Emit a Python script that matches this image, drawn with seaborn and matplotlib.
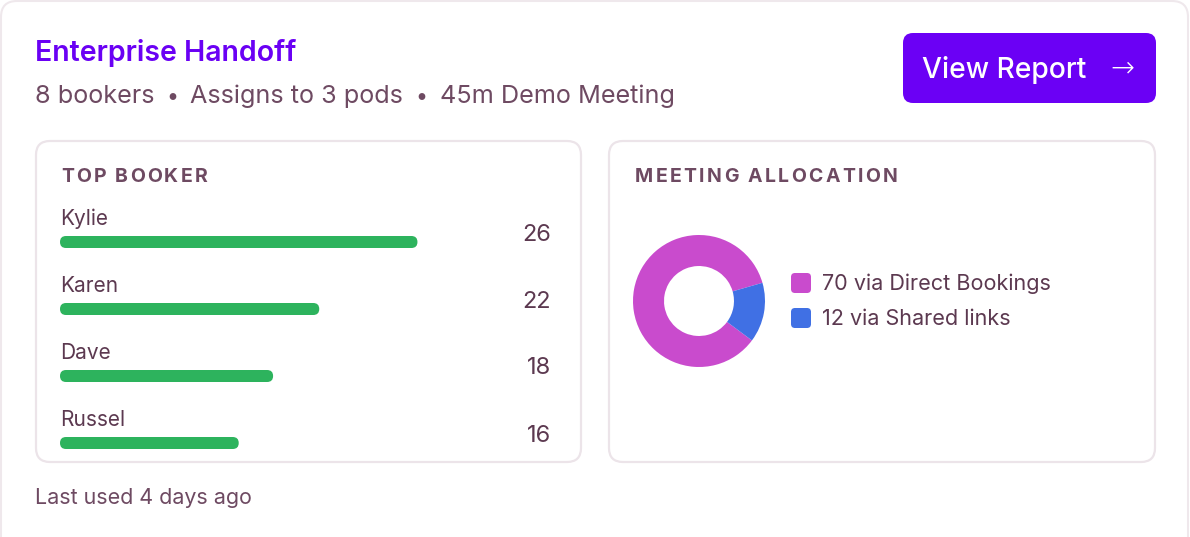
import matplotlib
matplotlib.use("Agg")
import matplotlib.pyplot as plt
import seaborn as sns
import pandas as pd
from matplotlib.patches import FancyBboxPatch

# ---------------- data ----------------
title = "Enterprise Handoff"
subtitle_parts = ["8 bookers", "Assigns to 3 pods", "45m Demo Meeting"]
button_label = "View Report"
bookers = ["Kylie", "Karen", "Dave", "Russel"]
booker_counts = [26, 22, 18, 16]
bar_fill_pct = [72.8, 52.8, 43.4, 36.4]   # bar length as % of the track
alloc_labels = ["Direct Bookings", "Shared links"]
alloc_values = [70, 12]
footer = "Last used 4 days ago"

# ---------------- style ----------------
PURPLE = "#6a00f4"
MUTED = "#6e4a62"
DARK = "#5c3950"
GREEN = "#2db35d"
MAGENTA = "#c94bcd"
BLUE = "#4070e4"
BORDER = "#ece4e9"

sns.set_theme(style="white")
plt.rcParams["font.family"] = ["Inter", "DejaVu Sans"]

W, H = 1190, 537
fig = plt.figure(figsize=(W / 100, H / 100), dpi=100, facecolor="white")
bg = fig.add_axes([0, 0, 1, 1])
bg.set_xlim(0, W)
bg.set_ylim(H, 0)
bg.axis("off")
R = fig.canvas.get_renderer()


def px_axes(x0, y0, x1, y1):
    return fig.add_axes([x0 / W, 1 - y1 / H, (x1 - x0) / W, (y1 - y0) / H])


def text_w(s, size, **kw):
    t = bg.text(0, 0, s, fontsize=size, **kw)
    w = t.get_window_extent(R).width
    t.remove()
    return w


def fit(s, target, **kw):
    return 20 * target / text_w(s, 20, **kw)


def rbox(x, y, w, h, r, **kw):
    bg.add_patch(FancyBboxPatch((x, y), w, h, boxstyle=f"round,pad=0,rounding_size={r}", **kw))


def spaced(x, y, s, target, size, **kw):
    natural = text_w(s, size, **kw)
    sp = (target - natural) / (len(s) - 1)
    for i, c in enumerate(s):
        if c == " ":
            continue
        left = text_w(s[: i + 1], size, **kw) - text_w(c, size, **kw)
        bg.text(x + left + i * sp, y, c, fontsize=size, ha="left", va="baseline", **kw)


# card + panels
rbox(1, 1, 1187, 600, 16, fc="white", ec="#efe8ec", lw=1.5)
rbox(36, 141, 545, 321, 14, fc="white", ec=BORDER, lw=1.6)
rbox(609, 141, 546, 321, 14, fc="white", ec=BORDER, lw=1.6)

# header
bg.text(35, 61, title, fontsize=fit(title, 262, fontweight="semibold"),
        fontweight="semibold", color=PURPLE, va="baseline")
sub_size = fit(subtitle_parts[1], 213)
for xs, part in zip([35, 190, 440], subtitle_parts):
    bg.text(xs, 103, part, fontsize=sub_size, color=MUTED, va="baseline")
for xb in [172, 421]:
    bg.text(xb, 103, "\u2022", fontsize=sub_size * 0.85, color=MUTED, va="baseline", ha="center")

# button
rbox(903, 33, 253, 70, 10, fc="#6b00f5", ec="none")
bg.text(922, 78, button_label, fontsize=fit(button_label, 164, fontweight="medium"),
        fontweight="medium", color="white", va="baseline")
bg.text(1122, 68, "\u2192", fontsize=fit("\u2192", 24, family=["DejaVu Sans"], fontweight="light"),
        fontweight="light", color="white", va="center", ha="center", family=["DejaVu Sans"])

# section headers
spaced(61, 182, "TOP BOOKER", 146, 14, fontweight="bold", color=MUTED)
spaced(635, 182, "MEETING ALLOCATION", 262, 14, fontweight="bold", color=MUTED)

# ---------------- bars ----------------
axb = px_axes(60, 208.5, 551, 476.5)
df = pd.DataFrame({"booker": bookers, "fill": bar_fill_pct})
sns.barplot(data=df, x="fill", y="booker", orient="h", color=GREEN, width=12 / 67,
            saturation=1, ax=axb)
axb.set_xlim(0, 100)
axb.set_ylim(3.5, -0.5)
axb.axis("off")
sx, sy = 491 / 100, 67.0
for p in list(axb.patches):
    x, y, w, h = p.get_x(), p.get_y(), p.get_width(), p.get_height()
    r = h / 2 * sy / sx
    fb = FancyBboxPatch((x, y), w, h, boxstyle=f"round,pad=0,rounding_size={r}",
                        mutation_aspect=sx / sy, fc=GREEN, ec="none")
    p.remove()
    axb.add_patch(fb)
name_size = fit("Russel", 65)
val_size = fit("26", 29)
for i, (nm, v) in enumerate(zip(bookers, booker_counts)):
    axb.text(0, i - 17 / sy, nm, fontsize=name_size, color=DARK, va="baseline", ha="left")
    axb.text(100, i - 1.5 / sy, str(v), fontsize=val_size, color=DARK, va="baseline", ha="right")

# ---------------- donut ----------------
axp = px_axes(633, 235, 765, 367)
axp.pie(alloc_values, colors=[MAGENTA, BLUE], startangle=16, counterclock=True,
        wedgeprops=dict(width=0.47, linewidth=0))
axp.set_xlim(-1, 1)
axp.set_ylim(-1, 1)
axp.set_aspect("equal")
axp.axis("off")

leg_size = fit(f"{alloc_values[0]} via {alloc_labels[0]}", 229)
for (ys, yb), v, lab, col in zip([(273, 290), (308, 325)], alloc_values, alloc_labels, [MAGENTA, BLUE]):
    rbox(791, ys, 20, 20, 4, fc=col, ec="none")
    bg.text(822, yb, f"{v} via {lab}", fontsize=leg_size, color=DARK, va="baseline")

# footer
bg.text(35, 504, footer, fontsize=fit(footer, 217), color=MUTED, va="baseline")

fig.savefig("out.png", dpi=100, facecolor="white")
